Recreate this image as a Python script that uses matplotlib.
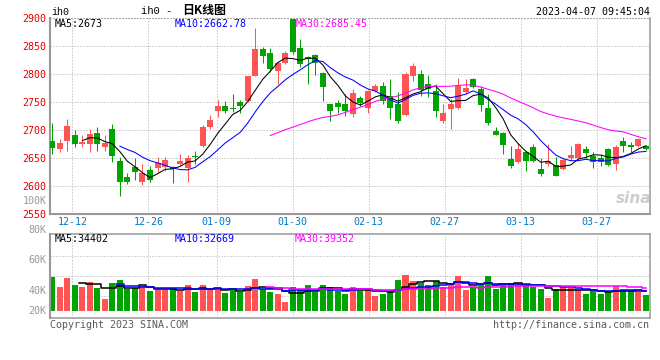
import matplotlib
matplotlib.use('Agg')
import matplotlib.pyplot as plt
import numpy as np
import pandas as pd

# ---------------- data ----------------
holidays = ['2023-01-02', '2023-01-23', '2023-01-24', '2023-01-25', '2023-01-26',
            '2023-01-27', '2023-04-05']
dates = [d for d in pd.bdate_range('2022-12-08', '2023-04-07')
         if d.strftime('%Y-%m-%d') not in holidays]

opens = [2680.8, 2666.4, 2679.6, 2691.6, 2674.2, 2674.2, 2695.2, 2668.8, 2702.4, 2644.8,
         2616.0, 2634.0, 2607.6, 2628.0, 2632.8, 2634.0, 2634.0, 2640.0, 2632.8, 2653.2,
         2671.2, 2704.8, 2734.8, 2743.2, 2739.6, 2749.2, 2751.6, 2797.2, 2844.0, 2836.8,
         2805.6, 2820.0, 2899.0, 2846.4, 2829.6, 2833.2, 2802.0, 2745.6, 2748.0, 2745.6,
         2728.8, 2757.6, 2738.4, 2769.6, 2779.2, 2760.0, 2745.6, 2726.4, 2796.0, 2800.8,
         2782.8, 2769.6, 2716.8, 2737.2, 2738.4, 2767.2, 2791.2, 2773.2, 2739.6, 2697.6,
         2695.2, 2648.4, 2643.6, 2661.6, 2668.8, 2630.4, 2640.0, 2637.6, 2630.4, 2649.6,
         2650.8, 2666.4, 2653.2, 2650.8, 2665.2, 2640.0, 2679.6, 2673.6, 2671.2, 2671.2]
highs = [2713.2, 2684.4, 2719.2, 2700.6, 2691.6, 2702.4, 2706.0, 2691.0, 2711.4, 2652.0,
         2623.2, 2649.6, 2638.8, 2636.4, 2652.0, 2652.0, 2636.4, 2656.8, 2655.6, 2662.8,
         2708.4, 2727.6, 2752.8, 2751.6, 2763.6, 2754.0, 2797.2, 2883.0, 2848.8, 2846.4,
         2823.6, 2841.6, 2900.0, 2863.2, 2832.0, 2835.6, 2803.2, 2746.8, 2754.0, 2764.8,
         2773.2, 2761.2, 2770.8, 2782.8, 2785.2, 2791.2, 2768.4, 2803.2, 2818.8, 2806.8,
         2798.4, 2782.8, 2745.6, 2755.2, 2792.4, 2790.6, 2792.4, 2778.0, 2763.6, 2706.0,
         2696.4, 2671.2, 2677.2, 2662.8, 2674.8, 2650.8, 2674.8, 2652.0, 2650.8, 2671.2,
         2676.0, 2671.2, 2660.4, 2656.8, 2667.6, 2672.4, 2688.0, 2678.4, 2685.6, 2672.4]
lows = [2656.8, 2661.6, 2662.8, 2668.8, 2668.8, 2661.6, 2662.8, 2662.8, 2643.6, 2582.4,
        2604.0, 2611.2, 2601.6, 2607.6, 2625.6, 2626.8, 2605.2, 2637.6, 2607.6, 2638.8,
        2668.8, 2701.2, 2724.0, 2731.2, 2732.4, 2731.2, 2750.4, 2796.0, 2818.8, 2804.4,
        2782.8, 2817.6, 2835.6, 2812.8, 2781.6, 2798.4, 2751.6, 2715.6, 2730.0, 2725.2,
        2724.0, 2742.0, 2731.2, 2767.2, 2745.6, 2719.2, 2713.2, 2725.2, 2787.6, 2761.2,
        2758.8, 2724.0, 2712.0, 2702.4, 2737.2, 2764.8, 2775.6, 2734.8, 2708.4, 2690.4,
        2658.0, 2632.8, 2641.2, 2626.8, 2642.4, 2618.4, 2635.2, 2617.2, 2628.0, 2647.2,
        2648.4, 2650.8, 2631.6, 2635.2, 2635.2, 2629.2, 2661.6, 2660.4, 2668.8, 2664.0]
closes = [2667.6, 2677.2, 2707.8, 2674.2, 2678.4, 2693.4, 2674.2, 2676.6, 2654.4, 2607.6,
          2607.6, 2625.6, 2623.2, 2611.2, 2641.2, 2647.2, 2630.4, 2644.8, 2649.6, 2652.0,
          2706.0, 2718.0, 2743.2, 2733.6, 2737.2, 2743.2, 2796.0, 2844.0, 2832.0, 2809.2,
          2820.0, 2836.8, 2839.2, 2817.6, 2827.2, 2820.0, 2776.8, 2733.6, 2740.8, 2733.6,
          2766.0, 2748.0, 2769.6, 2779.2, 2751.6, 2739.6, 2716.8, 2799.6, 2814.0, 2772.0,
          2773.2, 2733.6, 2731.2, 2745.6, 2778.0, 2775.6, 2776.8, 2744.4, 2712.0, 2691.6,
          2673.6, 2635.2, 2665.2, 2644.8, 2644.8, 2622.0, 2644.8, 2618.4, 2647.2, 2655.6,
          2674.8, 2659.2, 2642.4, 2643.6, 2637.6, 2670.0, 2671.2, 2668.8, 2683.2, 2666.4]
volumes_k = [58.8, 41.7, 57.1, 44.5, 41.7, 49.7, 40.0, 21.1, 47.9, 53.1,
             37.7, 38.8, 42.8, 34.8, 36.0, 36.0, 40.0, 34.2, 44.5, 32.5,
             44.5, 36.0, 36.0, 31.4, 37.7, 32.0, 42.8, 54.8, 37.1, 32.5,
             29.1, 15.4, 41.1, 37.7, 44.5, 32.0, 44.5, 41.1, 34.2, 29.7,
             41.1, 34.2, 37.7, 25.7, 29.7, 32.5, 53.1, 61.6, 51.4, 47.9,
             44.5, 51.4, 41.1, 47.9, 59.9, 36.0, 41.1, 44.5, 59.9, 37.7,
             44.5, 47.9, 47.9, 44.5, 41.1, 37.7, 22.3, 37.7, 41.1, 39.4,
             36.0, 29.7, 34.2, 29.1, 32.5, 42.8, 36.0, 34.2, 32.5, 27.4]

tick_dates = ['12-12', '12-26', '01-09', '01-30', '02-13', '02-27', '03-13', '03-27']
price_ticks = [2550, 2600, 2650, 2700, 2750, 2800, 2850, 2900]
vol_labels = ['100K', '80K', '60K', '40K', '20K']
price_ma_texts = ['MA5:2673', 'MA10:2662.78', 'MA30:2685.45']
vol_ma_texts = ['MA5:34402', 'MA10:32669', 'MA30:39352']
title_code = 'ih0'
title_text = '日K线图'
timestamp = '2023-04-07 09:45:04'

# ---------------- style / layout ----------------
W, H = 660, 360
RED = '#FF5454'
GREEN = '#00A300'
GRID = '#AAAAAA'
BORDER = '#999999'
MA_COLORS = ['black', '#0000FF', '#FF00FF']
MONO = ['DejaVu Sans Mono', 'Noto Sans CJK SC']
plt.rcParams['font.family'] = MONO

def fx(px):
    return px / W

def fy(py):
    return 1 - py / H

n = len(closes)
x = np.arange(n)
step = 7.515
x0px = 52.3
xlim = ((50 - x0px) / step, (650 - x0px) / step)
colors = [RED if c >= o else GREEN for o, c in zip(opens, closes)]

# positions of date grid lines (the chart spaces them slightly wider than candles)
date_strs = [d.strftime('%m-%d') for d in dates]
tick_pos = [0.64 + date_strs.index(t) * 1.0113 for t in tick_dates]

dots = (0, (1, 2))

fig = plt.figure(figsize=(W / 100, H / 100), dpi=100)

# ---------------- main price panel ----------------
ax = fig.add_axes([fx(50), fy(214), 600 / W, 196 / H])
ax.set_xlim(*xlim)
ax.set_ylim(price_ticks[0], price_ticks[-1])

for yv in price_ticks[1:-1]:
    ax.axhline(yv, color=GRID, lw=0.72, ls=dots, zorder=0)
for p in tick_pos:
    ax.axvline(p, color=GRID, lw=0.72, ls=dots, zorder=0)

ax.vlines(x, lows, highs, colors=colors, lw=0.75, zorder=2)
body_bottom = np.minimum(opens, closes)
body_h = np.maximum(np.abs(np.array(closes) - np.array(opens)), 0.8)
ax.bar(x, body_h, bottom=body_bottom, width=0.8, color=colors, zorder=3, linewidth=0)

cs = pd.Series(closes)
for w, col in zip([5, 10, 30], MA_COLORS):
    ax.plot(x, cs.rolling(w).mean(), color=col, lw=0.75, zorder=4)

ax.set_yticks(price_ticks)
ax.set_yticklabels([str(v) for v in price_ticks])
ax.set_xticks(tick_pos)
ax.set_xticklabels(tick_dates)
ax.tick_params(axis='y', length=0, pad=3, labelcolor='#E60000', labelsize=7.2)
ax.tick_params(axis='x', length=0, pad=2.5, labelcolor='#0078C8', labelsize=7.2)

for s in ['left', 'bottom']:
    ax.spines[s].set_color(BORDER)
    ax.spines[s].set_linewidth(1.5)
ax.spines['right'].set_color(BORDER)
ax.spines['right'].set_linewidth(1.1)
ax.spines['top'].set_color(GRID)
ax.spines['top'].set_linewidth(0.72)
ax.spines['top'].set_linestyle(dots)

# MA legend texts
for txt, col, px in zip(price_ma_texts, MA_COLORS, [55, 174.7, 296]):
    fig.text(fx(px), fy(24), txt, color=col, fontsize=7.2, va='center', ha='left')

# sina watermark
fig.text(fx(651), fy(198), 'sina', color='#C8C8C8', fontsize=11, fontweight='bold',
         fontstyle='italic', family='DejaVu Sans', ha='right', va='center', alpha=0.9)

# ---------------- volume panel ----------------
vax = fig.add_axes([fx(50), fy(318.3), 600 / W, 84 / H])
vax.set_xlim(*xlim)
vax.set_ylim(-12.5, 131.3)
for f in [0.268, 0.507, 0.745]:
    vax.plot([0, 1], [f, f], transform=vax.transAxes, color=GRID, lw=0.72, ls=dots, zorder=0)
for p in tick_pos:
    vax.axvline(p, color=GRID, lw=0.72, ls=dots, zorder=0)
vax.bar(x, volumes_k, width=0.8, color=colors, linewidth=0, zorder=2)
vs = pd.Series(volumes_k)
for w, col in zip([5, 10, 30], MA_COLORS):
    vax.plot(x, vs.rolling(w).mean(), color=col, lw=1.1, drawstyle='steps-mid', zorder=3)
vax.set_xticks([])
vax.set_yticks([])
for s in vax.spines.values():
    s.set_color(BORDER)
    s.set_linewidth(1.1)
vax.spines['left'].set_linewidth(1.5)

for txt, col, px in zip(vol_ma_texts, MA_COLORS, [55, 175, 295]):
    fig.text(fx(px), fy(238.5), txt, color=col, fontsize=7.2, va='center', ha='left')

for lab, py in zip(vol_labels, [200.7, 230, 260, 290.5, 311]):
    fig.text(fx(46.5), fy(py), lab, color='#999999', fontsize=7.2, ha='right', va='center')

# ---------------- header / footer ----------------
fig.text(fx(51), fy(12), title_code, color='black', fontsize=7.2, family='Liberation Mono',
         ha='left', va='center')
fig.text(fx(141), fy(11.5), title_code + ' -', color='black', fontsize=7.6,
         family='Liberation Mono', ha='left', va='center')
fig.text(fx(182.5), fy(10.5), title_text, color='black', fontsize=8.6, fontweight='bold',
         family=['Noto Sans CJK SC', 'DejaVu Sans'], ha='left', va='center')
fig.text(fx(649.5), fy(12), timestamp, color='black', fontsize=7.2, ha='right', va='center')

fig.text(fx(50), fy(324.5), 'Copyright 2023 SINA.COM', color='#5A5A5A', fontsize=7.2,
         ha='left', va='center')
fig.text(fx(649.5), fy(324.5), 'http://finance.sina.com.cn', color='#5A5A5A', fontsize=7.2,
         ha='right', va='center')

fig.savefig('out.png', dpi=100)
